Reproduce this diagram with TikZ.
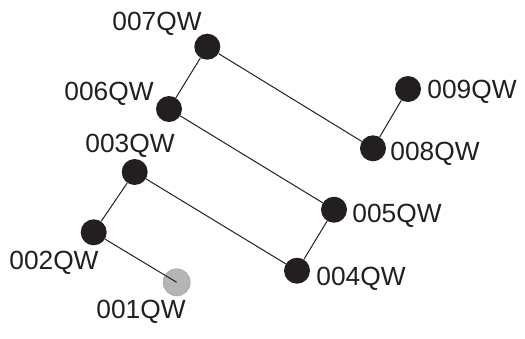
\documentclass[tikz,border=0pt]{standalone}
\usepackage{fontspec}
\setmainfont{Liberation Sans}
\usetikzlibrary{positioning}
\definecolor{cdot}{HTML}{231F20}
\definecolor{cfirst}{HTML}{B5B5B5}
\definecolor{cfirstD}{HTML}{A3A3A3}
\tikzset{
  qdot/.style={circle, fill=cdot, draw=none, minimum size=26pt, inner sep=0pt},
  qfirst/.style={qdot, fill=cfirst, draw=cfirstD, line width=0.6pt, minimum size=27pt},
  qlab/.style={inner sep=0pt, text=cdot, font=\fontsize{26.3}{30}\selectfont},
  link/.style={draw=cdot, line width=1pt},
}
\begin{document}
\begin{tikzpicture}[x=1pt, y=-1pt]
  \useasboundingbox (0,0) rectangle (525,338);
  % points
  \node[qfirst] (q1) at (176.7,282.3) {};
  \node[qdot] (q2) at (93.7,232.3) {};
  \node[qdot] (q3) at (134.7,172) {};
  \node[qdot] (q4) at (297,270.7) {};
  \node[qdot] (q5) at (334,209.7) {};
  \node[qdot] (q6) at (169,109) {};
  \node[qdot] (q7) at (207.3,46.7) {};
  \node[qdot] (q8) at (373,148.3) {};
  \node[qdot] (q9) at (408,89) {};
  % labels
  \node[qlab] (l1) at (141,311.5) {001QW};
  \node[qlab] (l2) at (54,262.3) {002QW};
  \node[qlab] (l3) at (130,145.3) {003QW};
  \node[qlab] (l4) at (361,278.8) {004QW};
  \node[qlab] (l5) at (397,216.1) {005QW};
  \node[qlab] (l6) at (109,93.8) {006QW};
  \node[qlab] (l7) at (157,23.8) {007QW};
  \node[qlab] (l8) at (435,153.3) {008QW};
  \node[qlab] (l9) at (472,91.8) {009QW};
  % path
  \draw[link] (q2) -- (q1.center);
  \draw[link] (q2) -- (q3); \draw[link] (q3) -- (q4); \draw[link] (q4) -- (q5);
  \draw[link] (q5) -- (q6); \draw[link] (q6) -- (q7); \draw[link] (q7) -- (q8);
  \draw[link] (q8) -- (q9);
\end{tikzpicture}
\end{document}
